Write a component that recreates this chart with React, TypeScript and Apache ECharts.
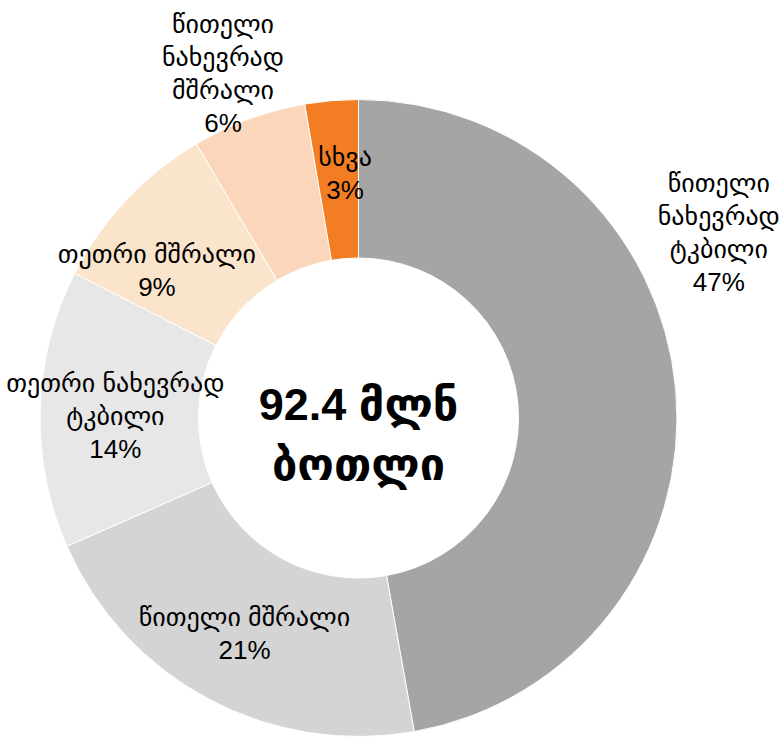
import React, { useEffect, useRef } from "react";
import * as echarts from "echarts";

const categories = [
  "წითელი\nნახევრად\nტკბილი",
  "წითელი მშრალი",
  "თეთრი ნახევრად\nტკბილი",
  "თეთრი მშრალი",
  "წითელი\nნახევრად\nმშრალი",
  "სხვა",
];
const shares = [47.2, 21.2, 14.1, 9.0, 5.8, 2.7];
const colors = ["#a5a5a5", "#d4d4d4", "#e7e7e7", "#fae5cc", "#fbd6ba", "#f37d22"];
const labelOffsets: [number, number][] = [
  [119, -164],
  [0, 2],
  [-1, 5],
  [-25, 18],
  [-52, -117],
  [7, -3],
];
const centerText = "92.4 მლნ\nბოთლი";

export default function App() {
  const ref = useRef<HTMLDivElement>(null);
  useEffect(() => {
    if (!ref.current) return;
    const chart = echarts.init(ref.current, null, { renderer: "svg" });
    chart.setOption({
      animation: false,
      backgroundColor: "#ffffff",
      graphic: [
        {
          type: "text",
          x: 358.5,
          y: 434,
          style: {
            text: centerText,
            font: "bold 45px 'Liberation Sans', 'DejaVu Sans', sans-serif",
            fill: "#000",
            align: "center",
            verticalAlign: "middle",
            lineHeight: 60,
          },
          z: 10,
        },
      ],
      series: [
        {
          type: "pie",
          center: [358.5, 418],
          radius: [160, 318.5],
          startAngle: 90,
          clockwise: true,
          avoidLabelOverlap: false,
          itemStyle: { borderColor: "#ffffff", borderWidth: 1 },
          label: {
            show: true,
            position: "inside",
            color: "#000",
            fontSize: 26,
            lineHeight: 33,
            fontFamily: "'Liberation Sans', 'DejaVu Sans', sans-serif",
            align: "center",
            formatter: (p: any) => `${p.name}\n${Math.round(p.percent)}%`,
          },
          labelLine: { show: false },
          emphasis: { disabled: true },
          data: categories.map((name, i) => ({
            name,
            value: shares[i],
            itemStyle: { color: colors[i] },
            label: { offset: labelOffsets[i] },
          })),
        },
      ],
    });
    return () => chart.dispose();
  }, []);
  return (
    <div
      ref={ref}
      style={{ position: "fixed", left: 0, top: 0, width: 780, height: 737 }}
    />
  );
}
